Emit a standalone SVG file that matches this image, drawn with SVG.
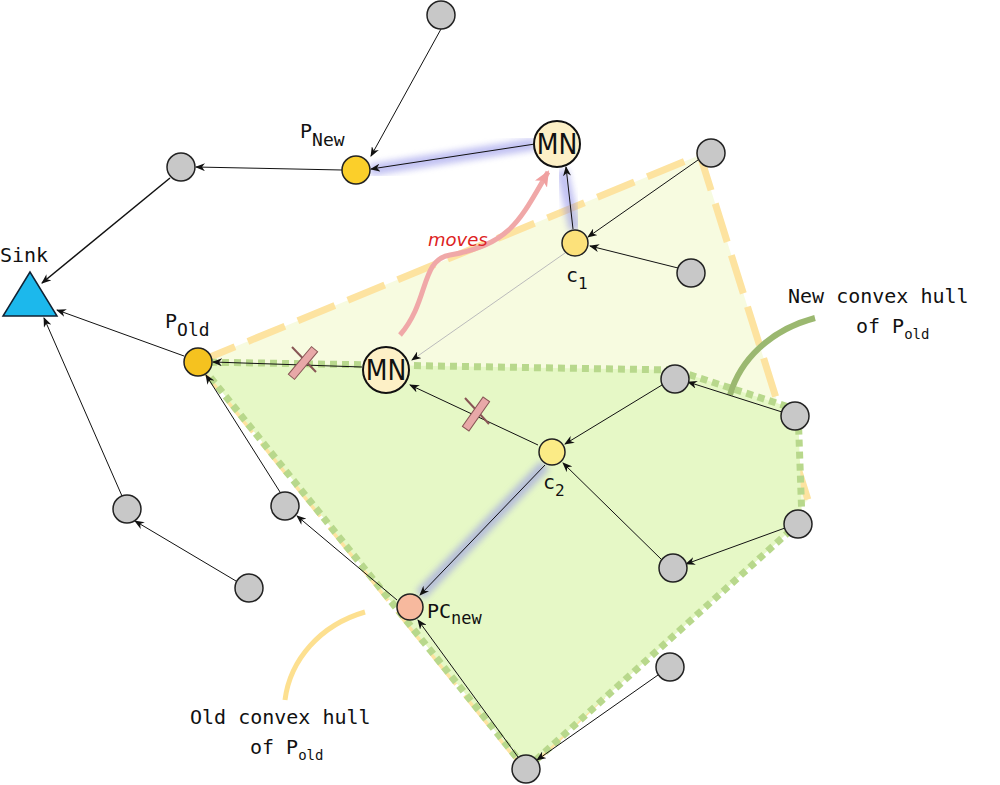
<svg xmlns="http://www.w3.org/2000/svg" width="1000" height="785" viewBox="0 0 1000 785">
<defs>
<style>
.g{fill:#c8c8c8;stroke:#222;stroke-width:1.5}
.e{stroke:#111;stroke-width:1;fill:none;marker-end:url(#a)}
.t{font-family:"DejaVu Sans Mono",monospace;font-size:20px;fill:#111}
.glow{stroke:#8f8fe8;stroke-width:12;opacity:.55;fill:none;filter:url(#b)}
.mn{font-family:"DejaVu Sans Condensed","DejaVu Sans",sans-serif;font-size:28px;fill:#111}
</style>
<filter id="b" x="-20%" y="-20%" width="140%" height="140%"><feGaussianBlur stdDeviation="3"/></filter>
<marker id="a" markerWidth="10" markerHeight="8" refX="9" refY="4" orient="auto" markerUnits="userSpaceOnUse"><path d="M0,0L10,4L0,8L3,4z" fill="#111"/></marker>
<marker id="p" markerWidth="16" markerHeight="14" refX="14" refY="7" orient="auto" markerUnits="userSpaceOnUse"><path d="M0,0L16,7L0,14L4,7z" fill="#f0a0a0"/></marker>
</defs>
<g id="hulls">
<polygon points="198,362 700,155 808,500 526,769" fill="#f7fbe0" stroke="#fde3a0" stroke-width="7" stroke-dasharray="40,14"/>
<polygon points="198,362 675,370 798,410 802,520 526,769" fill="#e6f8c6" stroke="#b8d88c" stroke-width="7" stroke-dasharray="7,5"/>
<path d="M815,318 C770,330 740,360 730,395" stroke="#9bb870" stroke-width="6" fill="none"/>
<path d="M285,700 C290,660 320,625 365,612" stroke="#fde090" stroke-width="5" fill="none"/>
</g>
<g id="connectors">
<path class="glow" d="M535,144 L370,170"/>
<path class="glow" d="M575,230 L562,170"/>
<path class="glow" d="M545,465 L420,595"/>
<line class="e" x1="441" y1="29" x2="371" y2="156"/>
<line class="e" x1="342" y1="170" x2="196" y2="167"/>
<line class="e" x1="170" y1="178" x2="42" y2="283" style="stroke-width:1.5"/>
<line class="e" x1="184" y1="356" x2="57" y2="310"/>
<line class="e" x1="122" y1="496" x2="44" y2="318"/>
<line class="e" x1="236" y1="581" x2="135" y2="521"/>
<line class="e" x1="362" y1="367" x2="213" y2="362"/>
<line class="e" x1="538" y1="445" x2="410" y2="385"/>
<line class="e" x1="565" y1="253" x2="412" y2="360" style="stroke:#bbb"/>
<line class="e" x1="573" y1="229" x2="566" y2="167"/>
<line class="e" x1="535" y1="144" x2="371" y2="169"/>
<line class="e" x1="698" y1="160" x2="588" y2="237"/>
<line class="e" x1="678" y1="268" x2="590" y2="246"/>
<line class="e" x1="662" y1="385" x2="565" y2="444"/>
<line class="e" x1="662" y1="560" x2="563" y2="463"/>
<line class="e" x1="782" y1="412" x2="688" y2="382"/>
<line class="e" x1="785" y1="528" x2="686" y2="564"/>
<line class="e" x1="545" y1="465" x2="420" y2="595"/>
<line class="e" x1="397" y1="600" x2="297" y2="516"/>
<line class="e" x1="280" y1="492" x2="206" y2="375"/>
<line class="e" x1="518" y1="757" x2="418" y2="620"/>
<line class="e" x1="658" y1="675" x2="537" y2="760"/>
<g stroke="#855" stroke-width="1" fill="#e8a8a8">
<path d="M292,347 L316,372" stroke-width="2" fill="none"/>
<rect x="299" y="345" width="8" height="36" transform="rotate(40 303 363)"/>
<path d="M465,398 L489,424" stroke-width="2" fill="none"/>
<rect x="472" y="396" width="8" height="36" transform="rotate(35 476 414)"/>
</g>
<path d="M400,335 C430,300 420,260 450,255 C510,245 520,220 548,172" stroke="#f0a8a8" stroke-width="5" fill="none" marker-end="url(#p)"/>
<text x="428" y="246" font-family="DejaVu Sans,sans-serif" font-style="italic" font-size="18" fill="#d22">moves</text>
</g>
<g id="sink"><polygon points="30,272 3,316 57,316" fill="#1cb8ec" stroke="#123" stroke-width="1.5"/><text class="t" x="0" y="262" font-size="18">Sink</text></g>
<g id="gray">
<circle class="g" cx="441" cy="15" r="14"/><circle class="g" cx="181" cy="167" r="14"/><circle class="g" cx="711" cy="153" r="14"/><circle class="g" cx="691" cy="273" r="14"/><circle class="g" cx="675" cy="379" r="14"/><circle class="g" cx="795" cy="416" r="14"/><circle class="g" cx="798" cy="524" r="14"/><circle class="g" cx="673" cy="568" r="14"/><circle class="g" cx="670" cy="667" r="14"/><circle class="g" cx="526" cy="769" r="14"/><circle class="g" cx="285" cy="506" r="14"/><circle class="g" cx="127" cy="509" r="14"/><circle class="g" cx="249" cy="588" r="14"/>
</g>
<g id="pnew"><circle cx="356" cy="170" r="14" fill="#fbcf2a" stroke="#222" stroke-width="1.5"/><text class="t" x="300" y="138" font-size="24">P<tspan font-size="18" dy="8">New</tspan></text></g>
<g id="pold"><circle cx="198" cy="362" r="14" fill="#f5c21f" stroke="#222" stroke-width="1.5"/><text class="t" x="165" y="328" font-size="24">P<tspan font-size="18" dy="8">Old</tspan></text></g>
<g id="mn1"><circle cx="557" cy="144" r="23" fill="#fdf0c6" stroke="#111" stroke-width="2"/><text class="mn" x="557" y="154" text-anchor="middle">MN</text></g>
<g id="mn2"><circle cx="386" cy="370" r="23" fill="#fdf0c6" stroke="#111" stroke-width="2"/><text class="mn" x="386" y="380" text-anchor="middle">MN</text></g>
<g id="c1"><circle cx="575" cy="243" r="13" fill="#fce17a" stroke="#222" stroke-width="1.5"/><text class="t" x="566" y="282">c<tspan font-size="16" dy="7">1</tspan></text></g>
<g id="c2"><circle cx="552" cy="452" r="13" fill="#fbeb86" stroke="#222" stroke-width="1.5"/><text class="t" x="543" y="489" fill="#556">c<tspan font-size="16" dy="7">2</tspan></text></g>
<g id="pcnew"><circle cx="410" cy="607" r="13" fill="#f7b99e" stroke="#222" stroke-width="1.5"/><text class="t" x="427" y="618" font-size="22">PC<tspan font-size="17" dy="6">new</tspan></text></g>
<g id="labels">
<text class="t" x="788" y="303">New convex hull</text>
<text class="t" x="856" y="333">of P<tspan font-size="14" dy="6">old</tspan></text>
<text class="t" x="190" y="724">Old convex hull</text>
<text class="t" x="250" y="754">of P<tspan font-size="14" dy="6">old</tspan></text>
</g>
</svg>
